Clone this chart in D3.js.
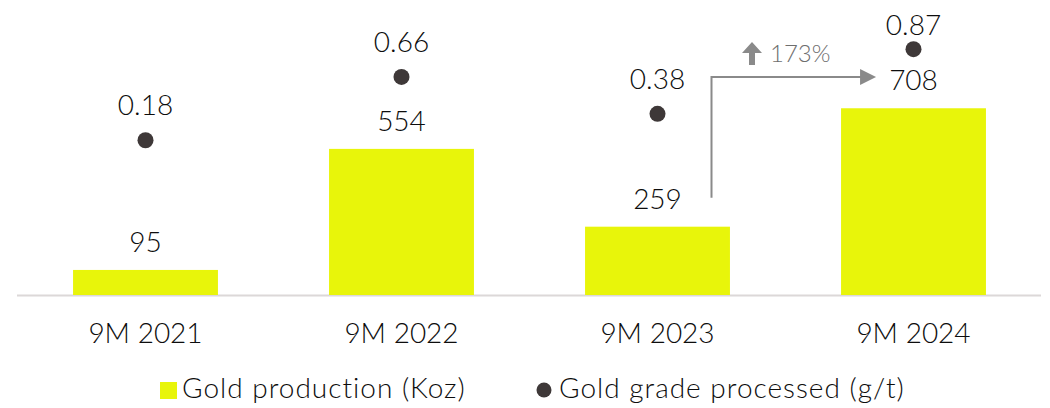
<!DOCTYPE html>
<html>
<head>
<meta charset="utf-8">
<script src="https://cdn.jsdelivr.net/npm/d3@7"></script>
<style>
  body { margin: 0; background: #fff; }
  text { font-family: Lato, "Open Sans", sans-serif; font-weight: 300; }
</style>
</head>
<body>
<svg id="chart" width="1050" height="408"></svg>
<script>
const categories = ['9M 2021', '9M 2022', '9M 2023', '9M 2024'];
const production = [95, 554, 259, 708];
const grade = [0.18, 0.66, 0.38, 0.87];
const growthLabel = '173%';
const legendLabels = ['Gold production (Koz)', 'Gold grade processed (g/t)'];

const barColor = '#e8f50a';
const dotColor = '#3e3838';
const textColor = '#0d0d0d';
const arrowColor = '#8a8a8a';

const svg = d3.select('#chart');
const baseY = 295;

const x = d3.scaleBand()
    .domain(categories)
    .range([17.5, 1041.5])
    .paddingInner(0.434)
    .paddingOuter(0.217);

const yBar = d3.scaleLinear().domain([0, 800]).range([baseY, 84]);
const yDot = d3.scaleLinear().domain([0, 1]).range([164, 32]);

// baseline
svg.append('line')
    .attr('x1', 17).attr('x2', 1041)
    .attr('y1', baseY + 0.5).attr('y2', baseY + 0.5)
    .attr('stroke', '#dcd8d8').attr('stroke-width', 2);

// bars
svg.selectAll('.bar')
    .data(production)
    .enter()
    .append('rect')
    .attr('class', 'bar')
    .attr('x', (d, i) => x(categories[i]))
    .attr('width', x.bandwidth())
    .attr('y', (d) => yBar(d))
    .attr('height', (d) => baseY - yBar(d))
    .attr('fill', barColor);

svg.selectAll('.bar-label')
    .data(production)
    .enter()
    .append('text')
    .attr('class', 'bar-label')
    .attr('x', (d, i) => x(categories[i]) + x.bandwidth() / 2)
    .attr('y', (d) => yBar(d) - 18)
    .attr('text-anchor', 'middle')
    .attr('font-size', 28)
    .attr('fill', textColor)
    .text((d) => d);

// grade dots
svg.selectAll('.dot')
    .data(grade)
    .enter()
    .append('circle')
    .attr('class', 'dot')
    .attr('cx', (d, i) => x(categories[i]) + x.bandwidth() / 2)
    .attr('cy', (d) => yDot(d))
    .attr('r', 8)
    .attr('fill', dotColor);

svg.selectAll('.dot-label')
    .data(grade)
    .enter()
    .append('text')
    .attr('class', 'dot-label')
    .attr('x', (d, i) => x(categories[i]) + x.bandwidth() / 2)
    .attr('y', (d) => Math.max(yDot(d) - 25, 35))
    .attr('text-anchor', 'middle')
    .attr('font-size', 28)
    .attr('fill', textColor)
    .text((d) => d.toFixed(2));

// category axis labels
svg.selectAll('.cat')
    .data(categories)
    .enter()
    .append('text')
    .attr('class', 'cat')
    .attr('x', (d) => x(d) + x.bandwidth() / 2)
    .attr('y', 343)
    .attr('text-anchor', 'middle')
    .attr('font-size', 28)
    .attr('fill', textColor)
    .text((d) => d);

// growth arrow 2023 -> 2024
const ax = x(categories[2]) + x.bandwidth() / 2 + 54;
const ay0 = yBar(production[2]) - 29;
const ay1 = 77;
const ax1 = x(categories[3]) + 35;

svg.append('path')
    .attr('d', `M${ax},${ay0} V${ay1} H${ax1 - 14}`)
    .attr('fill', 'none')
    .attr('stroke', arrowColor)
    .attr('stroke-width', 2);
svg.append('path')
    .attr('d', `M${ax1 - 16},${ay1 - 8} L${ax1},${ay1} L${ax1 - 16},${ay1 + 8} Z`)
    .attr('fill', arrowColor);

// small up arrow icon + percent
const ix = 752;
svg.append('path')
    .attr('d', `M${ix},42 L${ix + 10},53 L${ix + 3},53 L${ix + 3},65 L${ix - 3},65 L${ix - 3},53 L${ix - 10},53 Z`)
    .attr('fill', arrowColor);
svg.append('text')
    .attr('x', 770)
    .attr('y', 62)
    .attr('font-size', 24)
    .attr('fill', '#6e6e6e')
    .text(growthLabel);

// legend
const legend = svg.append('g');
legend.append('rect')
    .attr('x', 160).attr('y', 382)
    .attr('width', 17).attr('height', 17)
    .attr('fill', barColor);
legend.append('text')
    .attr('x', 182).attr('y', 398)
    .attr('font-size', 28)
    .attr('letter-spacing', 1)
    .attr('fill', textColor)
    .text(legendLabels[0]);
legend.append('circle')
    .attr('cx', 544).attr('cy', 390)
    .attr('r', 7.5)
    .attr('fill', dotColor);
legend.append('text')
    .attr('x', 559).attr('y', 398)
    .attr('font-size', 28)
    .attr('letter-spacing', 1)
    .attr('fill', textColor)
    .text(legendLabels[1]);
</script>
</body>
</html>
